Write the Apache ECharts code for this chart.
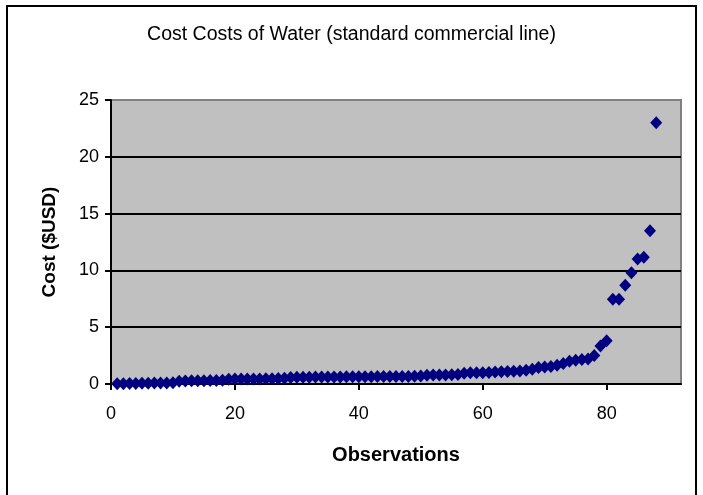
<!DOCTYPE html>
<html>
<head>
<meta charset="utf-8">
<script src="https://cdn.jsdelivr.net/npm/echarts@6/dist/echarts.min.js"></script>
<style>
  html, body { margin: 0; padding: 0; background: #ffffff; }
  #chart { width: 703px; height: 495px; }
</style>
</head>
<body>
<div id="chart"></div>
<script>
// Observation numbers (1..88) and the cost of water for each, sorted ascending
const observations = [
  1, 2, 3, 4, 5, 6, 7, 8, 9, 10,
  11, 12, 13, 14, 15, 16, 17, 18,
  19, 20, 21, 22, 23, 24, 25, 26, 27, 28,
  29, 30, 31, 32, 33, 34, 35, 36, 37, 38, 39, 40, 41, 42, 43, 44, 45, 46, 47, 48, 49, 50,
  51, 52, 53, 54, 55, 56,
  57, 58, 59, 60, 61, 62, 63, 64, 65, 66,
  67, 68, 69, 70, 71, 72, 73, 74, 75, 76, 77, 78, 79, 80,
  81, 82, 83, 84, 85, 86, 87, 88
];
const costs = [
  0.02, 0.03, 0.05, 0.05, 0.06, 0.07, 0.08, 0.08, 0.09, 0.12,
  0.25, 0.27, 0.28, 0.28, 0.29, 0.30, 0.30, 0.32,
  0.42, 0.43, 0.43, 0.44, 0.45, 0.45, 0.46, 0.47, 0.48, 0.50,
  0.58, 0.60, 0.60, 0.60, 0.61, 0.61, 0.62, 0.62, 0.62, 0.63, 0.63, 0.63, 0.64, 0.64, 0.65, 0.65, 0.65, 0.66, 0.66, 0.67, 0.68, 0.70,
  0.78, 0.79, 0.80, 0.80, 0.82, 0.84,
  0.95, 0.98, 1.00, 1.00, 1.02, 1.05, 1.08, 1.10, 1.12, 1.15,
  1.22, 1.30, 1.45, 1.50, 1.55, 1.65, 1.80, 2.00, 2.10, 2.15, 2.20, 2.50, 3.35, 3.80,
  7.45, 7.45, 8.70, 9.80, 11.00, 11.15, 13.50, 23.00
];

const chartTitle = 'Cost Costs of Water (standard commercial line)';
const xAxisName = 'Observations';
const yAxisName = 'Cost ($USD)';

const points = observations.map((x, i) => [x, costs[i]]);

const FONT = '"Liberation Sans", Arial, sans-serif';

const chart = echarts.init(document.getElementById('chart'), null, { renderer: 'canvas' });
chart.setOption({
  animation: false,
  backgroundColor: '#ffffff',
  title: {
    text: chartTitle,
    left: 'center',
    top: 20,
    textStyle: { fontFamily: FONT, fontSize: 19.5, fontWeight: 'normal', color: '#000' }
  },
  graphic: [{
    type: 'rect',
    shape: { x: 7, y: 6, width: 689, height: 500 },
    style: { fill: 'none', stroke: '#000', lineWidth: 2 },
    silent: true,
    z: -1
  }],
  grid: {
    left: 111, right: 22, top: 100, bottom: 111,
    show: true,
    backgroundColor: '#c0c0c0',
    borderColor: '#808080',
    borderWidth: 2
  },
  xAxis: {
    type: 'value',
    min: 0, max: 92, interval: 20,
    name: xAxisName,
    nameLocation: 'middle',
    nameGap: 61,
    nameTextStyle: { fontFamily: FONT, fontSize: 20, fontWeight: 'bold', color: '#000' },
    axisLine: { show: true, onZero: false, lineStyle: { color: '#000', width: 2 } },
    axisTick: { show: true, inside: false, length: 6, lineStyle: { color: '#000', width: 2 } },
    axisLabel: { fontFamily: FONT, fontSize: 18, color: '#000', margin: 21, showMaxLabel: false },
    splitLine: { show: false }
  },
  yAxis: {
    type: 'value',
    min: 0, max: 25, interval: 5,
    name: yAxisName,
    nameLocation: 'middle',
    nameGap: 52,
    nameTextStyle: { fontFamily: FONT, fontSize: 19, fontWeight: 'bold', color: '#000' },
    axisLine: { show: true, onZero: false, lineStyle: { color: '#000', width: 2 } },
    axisTick: { show: true, inside: false, length: 6, lineStyle: { color: '#000', width: 2 } },
    axisLabel: { fontFamily: FONT, fontSize: 18, color: '#000', margin: 12 },
    splitLine: { show: true, showMinLine: false, showMaxLine: false, lineStyle: { color: '#000', width: 2 } }
  },
  series: [{
    type: 'scatter',
    data: points,
    symbol: 'diamond',
    symbolSize: [12, 13],
    itemStyle: { color: '#000080', opacity: 1 },
    z: 5
  }]
});
</script>
</body>
</html>
